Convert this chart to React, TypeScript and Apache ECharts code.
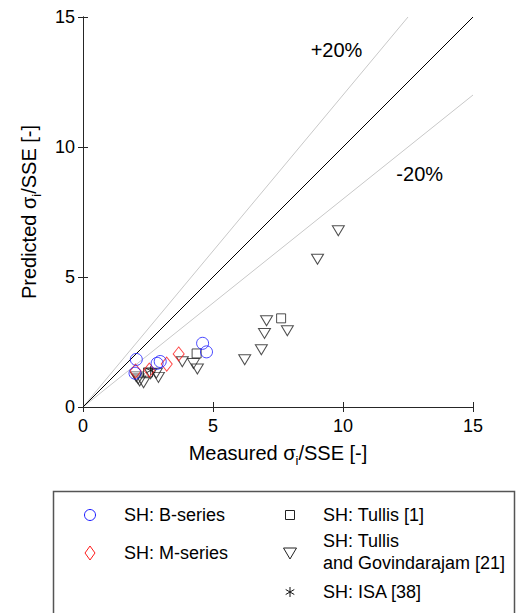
import React, { useEffect, useRef } from "react";
import * as echarts from "echarts";

// Measured vs predicted sigma_i / SSE, one array of [measured, predicted] per data source
const bSeries = [
  [2.05, 1.83], [2.0, 1.3], [2.85, 1.68], [2.97, 1.75], [4.6, 2.45], [4.75, 2.12],
];
const mSeries = [
  [2.02, 1.38], [2.55, 1.42], [3.22, 1.65], [3.68, 2.04],
];
const tullis = [
  [4.37, 2.06], [7.62, 3.41], [2.5, 1.33],
];
const tullisGovindarajam = [
  [9.82, 6.78], [9.02, 5.68], [7.06, 3.32], [6.98, 2.83], [7.86, 2.93], [6.86, 2.2],
  [6.22, 1.82], [3.82, 1.74], [4.25, 1.67], [4.4, 1.46], [2.05, 1.16], [2.18, 1.0],
  [2.33, 0.93], [2.6, 1.28], [2.82, 1.3], [2.9, 1.14], [2.12, 1.08],
];
const isa = [[2.6, 1.4]];

// Reference lines: perfect agreement and the +/-20% band
const unityLine = [[0, 0], [15, 15]];
const plus20Line = [[0, 0], [12.5, 15]];
const minus20Line = [[0, 0], [15, 12]];
const bandLabels = [
  [9.75, 13.72, "+20%"],
  [12.95, 8.95, "-20%"],
];

const axisTicks = [0, 5, 10, 15];

const FONT = "'Liberation Sans', Arial, sans-serif";
const STAR_PATH = "path://M5,0 L5,10 M0.67,2.5 L9.33,7.5 M0.67,7.5 L9.33,2.5";

const hollow = (color: string) => ({
  color: "rgba(0,0,0,0)",
  borderColor: color,
  borderWidth: 1,
});

export default function App() {
  const ref = useRef<HTMLDivElement>(null);

  useEffect(() => {
    if (!ref.current) return;
    const chart = echarts.init(ref.current, undefined, { renderer: "svg" });

    const axisCommon = {
      type: "value" as const,
      min: axisTicks[0],
      max: axisTicks[axisTicks.length - 1],
      interval: 5,
      splitLine: { show: false },
      axisLine: { show: true, lineStyle: { color: "#262626", width: 1 } },
      axisTick: { show: true, inside: true, length: 5, lineStyle: { color: "#262626" } },
    };
    const labelStyle = { fontSize: 18, fontFamily: FONT, color: "#000" };
    const nameRich = {
      m: { fontSize: 20, fontFamily: FONT, color: "#000", lineHeight: 24, verticalAlign: "top" },
      sub: {
        fontSize: 13, fontFamily: FONT, color: "#000", lineHeight: 13,
        verticalAlign: "bottom", padding: [14, 0, 0, 0],
      },
    };

    const lineSeries = (data: number[][], color: string) => ({
      type: "line",
      data,
      symbol: "none",
      silent: true,
      lineStyle: { color, width: 1 },
      z: 1,
    });

    chart.setOption({
      animation: false,
      grid: { left: 83, top: 17, width: 390, height: 390, containLabel: false },
      xAxis: [
        {
          ...axisCommon,
          position: "bottom",
          axisLabel: { ...labelStyle, margin: 10 },
          name: "{m|Measured σ}{sub|i}{m|/SSE [-]}",
          nameLocation: "middle",
          nameGap: 36,
          nameTextStyle: { rich: nameRich },
        },
        {
          ...axisCommon,
          position: "top",
          axisLabel: { show: false },
        },
      ],
      yAxis: [
        {
          ...axisCommon,
          position: "left",
          axisLabel: { ...labelStyle, margin: 8 },
          name: "{m|Predicted σ}{sub|i}{m|/SSE [-]}",
          nameLocation: "middle",
          nameRotate: 90,
          nameGap: 40,
          nameTextStyle: { rich: nameRich },
        },
        {
          ...axisCommon,
          position: "right",
          axisLabel: { show: false },
        },
      ],
      series: [
        lineSeries(plus20Line, "#c8c8c8"),
        lineSeries(minus20Line, "#c8c8c8"),
        lineSeries(unityLine, "#000000"),
        {
          type: "scatter",
          data: bandLabels,
          symbolSize: 1,
          itemStyle: { color: "rgba(0,0,0,0)", opacity: 1 },
          silent: true,
          label: {
            show: true,
            position: "inside",
            formatter: (p: any) => p.data[2],
            fontSize: 20,
            fontFamily: FONT,
            color: "#000",
            opacity: 1,
            textBorderWidth: 0,
          },
        },
        {
          type: "scatter",
          data: tullisGovindarajam,
          symbol: "triangle",
          symbolRotate: 180,
          symbolSize: [12, 10],
          itemStyle: hollow("#222"),
          z: 3,
        },
        {
          type: "scatter",
          data: tullis,
          symbol: "rect",
          symbolSize: 9,
          itemStyle: hollow("#222"),
          z: 3,
        },
        {
          type: "scatter",
          data: isa,
          symbol: STAR_PATH,
          symbolSize: 9,
          itemStyle: hollow("#111"),
          z: 3,
        },
        {
          type: "scatter",
          data: mSeries,
          symbol: "diamond",
          symbolSize: [11, 14],
          itemStyle: hollow("#ff1a1a"),
          z: 4,
        },
        {
          type: "scatter",
          data: bSeries,
          symbol: "circle",
          symbolSize: 12,
          itemStyle: hollow("#1a1aff"),
          z: 4,
        },
      ],
      graphic: [
        {
          type: "rect",
          shape: { x: 53.5, y: 491.5, width: 461, height: 140 },
          style: { fill: "#fff", stroke: "#555", lineWidth: 1.5 },
          z: 0,
        },
        {
          type: "circle",
          shape: { cx: 90, cy: 515, r: 5.5 },
          style: { fill: "none", stroke: "#1a1aff", lineWidth: 1 },
        },
        {
          type: "polygon",
          shape: { points: [[90, 546], [95, 553], [90, 560], [85, 553]] },
          style: { fill: "none", stroke: "#ff1a1a", lineWidth: 1 },
        },
        {
          type: "rect",
          shape: { x: 285.5, y: 510.5, width: 9, height: 9 },
          style: { fill: "none", stroke: "#222", lineWidth: 1 },
        },
        {
          type: "polygon",
          shape: { points: [[283.5, 548], [296.5, 548], [290, 559]] },
          style: { fill: "none", stroke: "#222", lineWidth: 1 },
        },
        {
          type: "group",
          children: [
            { type: "line", shape: { x1: 290, y1: 587, x2: 290, y2: 597 }, style: { stroke: "#111", lineWidth: 1 } },
            { type: "line", shape: { x1: 285.7, y1: 589.5, x2: 294.3, y2: 594.5 }, style: { stroke: "#111", lineWidth: 1 } },
            { type: "line", shape: { x1: 285.7, y1: 594.5, x2: 294.3, y2: 589.5 }, style: { stroke: "#111", lineWidth: 1 } },
          ],
        },
        {
          type: "text", x: 124, y: 515,
          style: { text: "SH: B-series", fontSize: 18, fontFamily: FONT, fill: "#000", verticalAlign: "middle" },
        },
        {
          type: "text", x: 124, y: 553,
          style: { text: "SH: M-series", fontSize: 18, fontFamily: FONT, fill: "#000", verticalAlign: "middle" },
        },
        {
          type: "text", x: 323, y: 515,
          style: { text: "SH: Tullis [1]", fontSize: 18, fontFamily: FONT, fill: "#000", verticalAlign: "middle" },
        },
        {
          type: "text", x: 323, y: 552,
          style: {
            text: "SH: Tullis\nand Govindarajam [21]", fontSize: 18, lineHeight: 22,
            fontFamily: FONT, fill: "#000", verticalAlign: "middle",
          },
        },
        {
          type: "text", x: 323, y: 592,
          style: { text: "SH: ISA [38]", fontSize: 18, fontFamily: FONT, fill: "#000", verticalAlign: "middle" },
        },
      ],
    });

    return () => chart.dispose();
  }, []);

  return (
    <div
      ref={ref}
      style={{ position: "fixed", left: 0, top: 0, width: 516, height: 613, background: "#fff" }}
    />
  );
}
